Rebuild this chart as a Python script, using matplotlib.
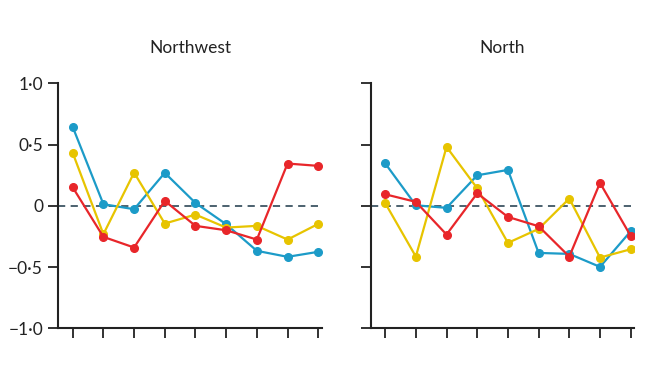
import numpy as np
import matplotlib
matplotlib.use('Agg')
import matplotlib.pyplot as plt

plt.rcParams['font.family'] = ['Lato', 'DejaVu Sans']

x = np.arange(1, 10)

# Northwest panel
nw_blue = [0.645, 0.014, -0.027, 0.27, 0.024, -0.15, -0.367, -0.416, -0.375]
nw_yellow = [0.433, -0.231, 0.272, -0.144, -0.071, -0.177, -0.163, -0.275, -0.147]
nw_red = [0.152, -0.253, -0.34, 0.041, -0.163, -0.199, -0.275, 0.346, 0.327]

# North panel
n_blue = [0.348, 0.005, -0.016, 0.25, 0.294, -0.384, -0.392, -0.498, -0.207]
n_yellow = [0.024, -0.414, 0.482, 0.144, -0.302, -0.188, 0.06, -0.422, -0.354]
n_red = [0.095, 0.033, -0.234, 0.103, -0.09, -0.166, -0.414, 0.188, -0.245]

titles = ['Northwest', 'North']
yticks = [-1.0, -0.5, 0, 0.5, 1.0]
ytick_labels = ['\u22121\u00b70', '\u22120\u00b75', '0', '0\u00b75', '1\u00b70']

blue = '#1c9bc8'
yellow = '#e7c400'
red = '#e8262a'

fig = plt.figure(figsize=(6.6, 3.71), dpi=100)
ax1 = fig.add_axes([0.0883, 0.115, 0.399, 0.660])
ax2 = fig.add_axes([0.5617, 0.115, 0.399, 0.660])

panels = [(ax1, nw_blue, nw_yellow, nw_red), (ax2, n_blue, n_yellow, n_red)]
for i, (ax, b, yl, r) in enumerate(panels):
    ax.axhline(0, color='#3e5563', lw=1.3, ls=(0, (4, 3)), zorder=1)
    for vals, c in [(b, blue), (yl, yellow), (r, red)]:
        ax.plot(x, vals, color=c, lw=1.6, marker='o', ms=5.5, zorder=3)
    ax.set_xlim(0.53, 9.11)
    ax.set_ylim(-1, 1)
    ax.set_xticks(x)
    ax.set_xticklabels([])
    ax.set_yticks(yticks)
    if i == 0:
        ax.set_yticklabels(ytick_labels, fontsize=12.5, color='#222222')
    else:
        ax.set_yticklabels([])
    for s in ['top', 'right']:
        ax.spines[s].set_visible(False)
    for s in ['left', 'bottom']:
        ax.spines[s].set_linewidth(1.5)
        ax.spines[s].set_color('#222222')
    ax.tick_params(direction='out', length=7, width=1.3, color='#222222', pad=4)
    ax.set_title(titles[i], fontsize=12.5, color='#222222', pad=22)

fig.savefig('out.png', dpi=100)
